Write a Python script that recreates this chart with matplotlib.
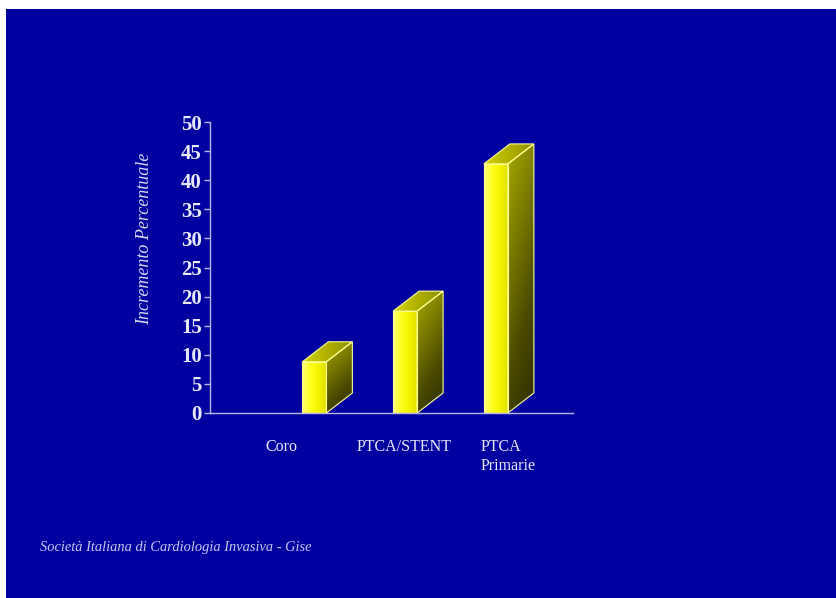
import numpy as np
import matplotlib
matplotlib.use("Agg")
import matplotlib.pyplot as plt
from matplotlib.patches import Polygon, Rectangle
from matplotlib.colors import LinearSegmentedColormap

# Data
categories = ["Coro", "PTCA/STENT", "PTCA\nPrimarie"]
values = [8.8, 17.5, 42.8]
bar_positions = [0, 1, 2]
label_positions = [-0.36, 0.99, 2.13]
y_ticks = list(range(0, 55, 5))

ylabel = "Incremento Percentuale"
footer = "Società Italiana di Cardiologia Invasiva - Gise"

W, H, DPI = 836, 598, 100
BG = "#0000a0"
TEXT = "#e8e8f8"
AXIS = "#b8b8e8"

fig = plt.figure(figsize=(W / DPI, H / DPI), dpi=DPI, facecolor="white")

# Blue slide background (thin white strip top and left)
fig.patches.append(Rectangle((6 / W, 0), 1 - 6 / W, 1 - 9 / H,
                             transform=fig.transFigure, facecolor=BG,
                             edgecolor="none", zorder=-10))

ax_l, ax_r, ax_t, ax_b = 210, 573, 122, 413
ax = fig.add_axes([ax_l / W, 1 - ax_b / H, (ax_r - ax_l) / W, (ax_b - ax_t) / H])
ax.set_facecolor("none")

xmin, xmax = -1.15, 2.85
ymin, ymax = 0, 50
px_x = (ax_r - ax_l) / (xmax - xmin)
px_y = (ax_b - ax_t) / (ymax - ymin)

bar_w = 24 / px_x
dx = 26 / px_x
dy = 20 / px_y

front_cmap = LinearSegmentedColormap.from_list(
    "front", ["#ffff80", "#ffff20", "#f4f400", "#e0e000"])
side_cmap = LinearSegmentedColormap.from_list(
    "side", ["#2e2e00", "#4a4a00", "#7a7a00", "#a8a800"])
top_cmap = LinearSegmentedColormap.from_list(
    "top", ["#d4d400", "#b0b000", "#909000"])

edge = "#ffff90"

for x, v in zip(bar_positions, values):
    x0, x1 = x - bar_w / 2, x + bar_w / 2
    # front face: horizontal gradient
    grad = np.linspace(0, 1, 64).reshape(1, -1)
    ax.imshow(grad, cmap=front_cmap, extent=(x0, x1, 0, v), aspect="auto",
              origin="lower", zorder=2, interpolation="bilinear")
    ax.add_patch(Rectangle((x0, 0), bar_w, v, facecolor="none",
                           edgecolor=edge, lw=0.8, zorder=3))
    # side face: vertical gradient, dark at bottom
    side = Polygon([(x1, 0), (x1 + dx, dy), (x1 + dx, v + dy), (x1, v)],
                   closed=True, facecolor="none", edgecolor=edge, lw=0.8, zorder=3)
    gv = np.linspace(0, 1, 128).reshape(-1, 1) * 0.75 + np.linspace(0.25, 0, 32).reshape(1, -1)
    im = ax.imshow(gv, cmap=side_cmap, extent=(x1, x1 + dx, 0, v + dy),
                   aspect="auto", origin="lower", zorder=2,
                   interpolation="bilinear", vmin=0, vmax=1)
    ax.add_patch(side)
    im.set_clip_path(side)
    # top face
    top = Polygon([(x0, v), (x1, v), (x1 + dx, v + dy), (x0 + dx, v + dy)],
                  closed=True, facecolor="none", edgecolor=edge, lw=0.8, zorder=3)
    gt = np.linspace(0, 1, 32).reshape(1, -1)
    im2 = ax.imshow(gt, cmap=top_cmap, extent=(x0, x1 + dx, v, v + dy),
                    aspect="auto", origin="lower", zorder=2,
                    interpolation="bilinear")
    ax.add_patch(top)
    im2.set_clip_path(top)

ax.set_xlim(xmin, xmax)
ax.set_ylim(ymin, ymax)

for s in ["top", "right"]:
    ax.spines[s].set_visible(False)
for s in ["left", "bottom"]:
    ax.spines[s].set_color(AXIS)
    ax.spines[s].set_linewidth(1.0)

ax.set_yticks(y_ticks)
ax.set_yticklabels([str(t) for t in y_ticks], fontfamily="Liberation Serif",
                   fontweight="bold", fontsize=15, color=TEXT)
ax.tick_params(axis="y", colors=AXIS, length=4, width=1, pad=2, labelcolor=TEXT)

ax.set_xticks(label_positions)
ax.set_xticklabels(categories, fontfamily="Liberation Serif", fontsize=11.5,
                   color=TEXT, va="top", multialignment="left")
ax.tick_params(axis="x", length=0, pad=19, labelcolor=TEXT)

fig.text(145 / W, 1 - 239 / H, ylabel, rotation=90, ha="center", va="center",
         fontfamily="Liberation Serif", fontstyle="italic", fontsize=13,
         color="#d8d8f0")

fig.text(40 / W, 1 - 548 / H, footer, ha="left", va="center",
         fontfamily="Liberation Serif", fontstyle="italic", fontsize=10.4,
         color="#c8c8f0")

fig.savefig("out.png", dpi=DPI, facecolor="white")
